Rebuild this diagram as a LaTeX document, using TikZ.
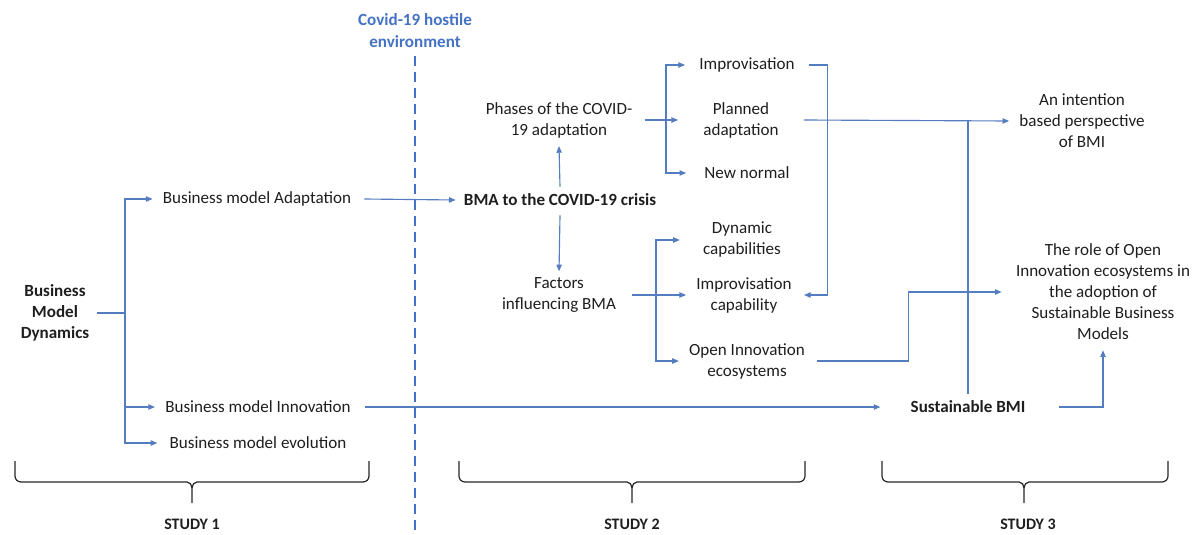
\documentclass[tikz,border=0pt]{standalone}
\usepackage{fontspec}
\setmainfont{Carlito}
\usetikzlibrary{calc,arrows.meta}
\definecolor{lnc}{RGB}{84,124,192}
\definecolor{dashc}{RGB}{68,114,196}
\definecolor{txtc}{RGB}{30,30,30}
\tikzset{
  txt/.style={font=\fontsize{12.8}{15.75}\selectfont, text=txtc, align=center, inner sep=0pt},
  btxt/.style={txt, font=\fontsize{12.8}{15.75}\selectfont\bfseries},
  ln/.style={draw=lnc, line width=0.85pt},
  arr/.style={ln, -{Triangle[length=5pt,width=4pt]}},
  bracestyle/.style={draw=black!85, line width=0.9pt},
  dashline/.style={draw=dashc, line width=1.6pt, dash pattern=on 7pt off 5pt},
}
\newcommand{\mybrace}[3]{%
  \draw[bracestyle] (#1,461) -- (#1,476) to[out=-90,in=180] (#1+6,482) -- (#2-5,482)
    to[out=0,in=90] (#2,488) -- (#2,503);
  \draw[bracestyle] (#2,488) to[out=90,in=180] (#2+5,482) -- (#3-6,482)
    to[out=0,in=-90] (#3,476) -- (#3,461);
}
\begin{document}
\begin{tikzpicture}[x=0.75pt,y=-0.75pt]
\useasboundingbox (0,0) rectangle (1202,535);

% title and dashed line
\node[btxt, text=dashc, font=\fontsize{12.8}{16.5}\selectfont\bfseries] (covid) at (415,31) {Covid-19 hostile\\environment};
\coordinate (dashbot) at (415,535);
\draw[dashline] ($(covid.south)+(0,8)$) -- (dashbot);

% nodes
\node[btxt] (bmd) at (55,313) {Business\\Model\\Dynamics};
\node[txt] (bmad) at (257,199) {Business model Adaptation};
\node[txt] (bmin) at (258,407) {Business model Innovation};
\node[txt] (bmev) at (258,443) {Business model evolution};
\node[btxt] (crisis) at (560,200) {BMA to the COVID-19 crisis};
\node[txt] (phases) at (559,120) {Phases of the COVID-\\19 adaptation};
\node[txt] (factors) at (559,295) {Factors\\influencing BMA};
\node[txt] (improv) at (747,65) {Improvisation};
\node[txt] (planned) at (741,120) {Planned\\adaptation};
\node[txt] (newnorm) at (747,173) {New normal};
\node[txt] (dyncap) at (742,240) {Dynamic\\capabilities};
\node[txt] (impcap) at (744,295) {Improvisation\\capability};
\node[txt] (oie) at (747,361) {Open Innovation\\ecosystems};
\node[txt] (intent) at (1082,121) {An intention\\based perspective\\of BMI};
\node[txt] (role) at (1103,292) {The role of Open\\Innovation ecosystems in\\the adoption of\\Sustainable Business\\Models};
\node[btxt] (sbmi) at (968,407) {Sustainable BMI};

% left tree
\coordinate (j1) at (125,313);
\draw[ln] ($(bmd.east)+(8,0)$) -- (j1);
\draw[arr] (j1) |- ($(bmad.west)+(-10,0)$);
\draw[arr] (j1) |- ($(bmin.west)+(-10,0)$);
\draw[arr] (j1) |- ($(bmev.west)+(-12,0)$);

% study 1 -> study 2
\draw[arr] ($(bmad.east)+(13,0)$) -- ($(crisis.west)+(-8,0)$);
\draw[arr] ($(crisis.north)+(0,-7)$) -- ($(phases.south)+(0,8)$);
\draw[arr] ($(crisis.south)+(0,9)$) -- ($(factors.north)+(0,-6)$);

% phases tree
\coordinate (j2) at (666,120);
\draw[arr] ($(phases.east)+(12,0)$) -- ($(planned.west)+(-25,0)$);
\draw[arr] (j2) |- ($(improv.west)+(-14,0)$);
\draw[arr] (j2) |- ($(newnorm.west)+(-18,0)$);

% factors tree
\coordinate (j3) at (656,295);
\draw[arr] ($(factors.east)+(16,0)$) -- ($(impcap.west)+(-10,0)$);
\draw[arr] (j3) |- ($(dyncap.west)+(-23,0)$);
\draw[arr] (j3) |- ($(oie.west)+(-10,0)$);

% improvisation -> improvisation capability
\draw[arr] ($(improv.east)+(14,0)$) -| ($(impcap.east)+(36,0)$) -- ($(impcap.east)+(12,0)$);

% planned -> intention
\draw[arr] ($(planned.east)+(25,0)$) -- ($(intent.west)+(-10,0)$);
\draw[ln] ($(sbmi.north)+(0,-7)$) -- (sbmi.north |- intent.west);

% open innovation -> role
\draw[arr] ($(oie.east)+(12,0)$) -| ($(role.west)+(-107,0)$) -- ($(role.west)+(-14,0)$);

% BMI -> sustainable BMI -> role
\draw[arr] ($(bmin.east)+(14,0)$) -- ($(sbmi.west)+(-30,0)$);
\draw[arr] ($(sbmi.east)+(33,0)$) -| ($(role.south)+(0,10)$);

% braces
\mybrace{15}{192}{369}
\mybrace{459}{632}{805}
\mybrace{882}{1024}{1168}
\node[btxt, font=\fontsize{12}{14}\selectfont\bfseries] (s1) at (192,524) {STUDY 1};
\node[btxt, font=\fontsize{12}{14}\selectfont\bfseries] (s2) at (632,524) {STUDY 2};
\node[btxt, font=\fontsize{12}{14}\selectfont\bfseries] (s3) at (1028,524) {STUDY 3};
\end{tikzpicture}
\end{document}
